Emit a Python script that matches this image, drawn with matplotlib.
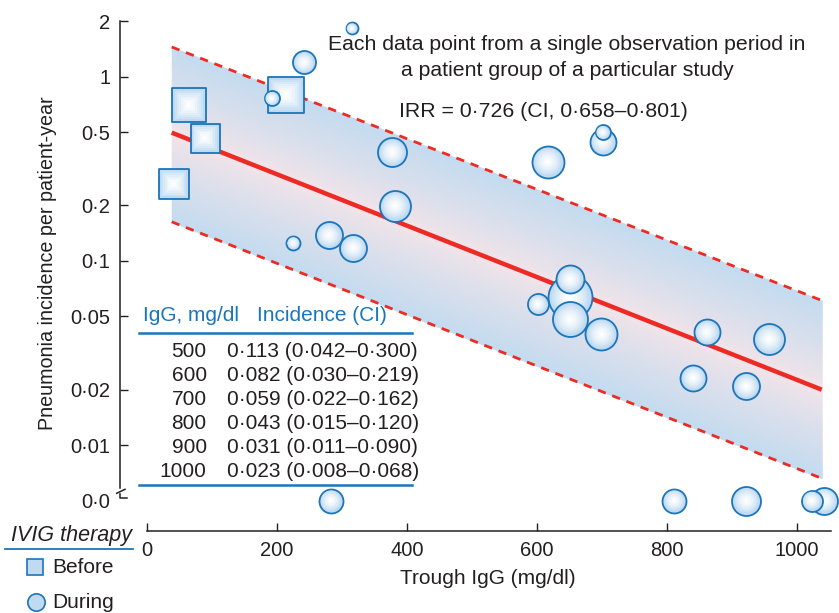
import numpy as np
import matplotlib
matplotlib.use("Agg")
import matplotlib.pyplot as plt
from matplotlib.lines import Line2D
from matplotlib.ticker import NullLocator
from matplotlib.colors import to_rgb

plt.rcParams['font.family'] = ['Liberation Sans', 'DejaVu Sans']

# --- data ---
before_x = [65, 89, 41, 214]
before_y = [0.70, 0.467, 0.262, 0.80]
before_d = [34, 29, 30, 36]          # marker size (px)

during_x = [315, 241.5, 191.8, 377.4, 381.5, 225, 279.5, 317.4, 616.4, 701, 701,
            650.8, 601, 650.8, 650.8, 699, 861, 957, 840.5, 922]
during_y = [1.83, 1.197, 0.763, 0.389, 0.1995, 0.125, 0.138, 0.118, 0.346, 0.444, 0.499,
            0.0634, 0.0583, 0.0795, 0.0482, 0.0401, 0.0411, 0.0377, 0.0232, 0.0209]
during_d = [12, 23, 15, 29, 31, 14, 27, 27, 32, 26, 15,
            44, 21, 28, 35, 32, 26, 31, 26, 27]

zero_x = [283, 811, 922, 1042, 1022.6]   # incidence 0.0
zero_d = [24, 24, 29, 27, 21]

fit_x = [38, 1038]
fit_y = [0.497, 0.020]
band_hi = [1.45, 0.061]
band_lo = [0.163, 0.0066]

igg_levels = [500, 600, 700, 800, 900, 1000]
incidence = ["0·113", "0·082", "0·059", "0·043", "0·031", "0·023"]
ci_lo = ["0·042", "0·030", "0·022", "0·015", "0·011", "0·008"]
ci_hi = ["0·300", "0·219", "0·162", "0·120", "0·090", "0·068"]

yticks = [2, 1, 0.5, 0.2, 0.1, 0.05, 0.02, 0.01]
ytick_labels = ["2", "1", "0·5", "0·2", "0·1", "0·05", "0·02", "0·01"]
xticks = [0, 200, 400, 600, 800, 1000]

ZERO = 0.005   # where the "0·0" row sits on the log axis

DARK = "#231f20"
BLUE = "#1b75bb"
FILL = "#bfdaf1"
RED = "#ee2a24"
PINK = "#f5e4e8"
BANDBLUE = "#c4dbef"
FS = 15

W, H = 839, 613
def fx(px): return px / W
def fy(py): return 1 - py / H
def ypix(py): return 10 ** (-(py - 76.7) / 184.2)

fig = plt.figure(figsize=(W / 100, H / 100), dpi=100)
ax = fig.add_axes([fx(120), fy(531), (831 - 120) / W, (531 - 10) / H])
ax.set_yscale("log")
ax.set_xlim(-41.5, 1052.3)
ax.set_ylim(ypix(531), ypix(10))


def blend(c1, c2, t):
    a, b = np.array(to_rgb(c1)), np.array(to_rgb(c2))
    return tuple(a + (b - a) * t)


# gradient band: pink along the fit, blue toward the dashed limits
fx_arr = np.array(fit_x, float)
lc = np.log10(fit_y)
N = 40
for edge in (band_hi, band_lo):
    le = np.log10(edge)
    for k in range(N):
        t0, t1 = k / N, (k + 1) / N
        ya = 10 ** (lc + t0 * (le - lc))
        yb = 10 ** (lc + t1 * (le - lc))
        col = blend(PINK, BANDBLUE, ((t0 + t1) / 2) ** 0.8)
        ax.fill_between(fx_arr, ya, yb, color=col, lw=0.6, ec=col, zorder=1)

ax.plot(fit_x, fit_y, color=RED, lw=3.2, zorder=2, solid_capstyle="butt")
ax.plot(fit_x, band_hi, color=RED, lw=2, ls=(0, (3, 2.5)), zorder=2)
ax.plot(fit_x, band_lo, color=RED, lw=2, ls=(0, (3, 2.5)), zorder=2)


def bubble(x, y, d, marker):
    pt = d * 0.72
    ax.scatter([x], [y], s=pt ** 2, marker=marker, facecolor=FILL,
               edgecolor=BLUE, linewidth=1.3, zorder=3, clip_on=False)
    n = 8
    for j in range(1, n):
        r = 1 - j / n
        col = blend("white", FILL, r ** 1.6)
        ax.scatter([x], [y], s=(pt * r * 0.95) ** 2, marker=marker, facecolor=col,
                   edgecolor="none", zorder=3, clip_on=False)


for x, y, d in zip(before_x, before_y, before_d):
    bubble(x, y, d, "s")
for x, y, d in zip(during_x, during_y, during_d):
    bubble(x, y, d, "o")
for x, d in zip(zero_x, zero_d):
    bubble(x, ZERO, d, "o")

# axes styling
for s in ("top", "right"):
    ax.spines[s].set_visible(False)
ax.spines["left"].set_bounds(ypix(488), 2)
ax.spines["bottom"].set_bounds(0, 1052.3)
for s in ("left", "bottom"):
    ax.spines[s].set_linewidth(1.1)
    ax.spines[s].set_color(DARK)

ax.set_yticks(yticks + [ZERO])
ax.set_yticklabels(ytick_labels + ["0·0"])
ax.yaxis.set_minor_locator(NullLocator())
ax.yaxis.get_major_ticks()[-1].tick1line.set_visible(False)
ax.set_xticks(xticks)
ax.tick_params(direction="in", length=6, width=1, color=DARK, labelcolor=DARK,
               labelsize=14.5, pad=7)

fig.text(fx(488), fy(584), "Trough IgG (mg/dl)", ha="center", va="baseline",
         fontsize=FS, color=DARK)
fig.text(fx(48), fy(263), "Pneumonia incidence per patient-year", rotation=90,
         ha="center", va="center", fontsize=14.2, color=DARK)

# axis break mark
for xs, ys in (([116.7, 125], [493.3, 489.3]), ([120, 120, 126.7], [494, 498.3, 498.3])):
    fig.add_artist(Line2D([fx(v) for v in xs], [fy(v) for v in ys], color=DARK, lw=1.1))

# annotations
fig.text(fx(567), fy(50), "Each data point from a single observation period in",
         ha="center", va="baseline", fontsize=15.3, color=DARK)
fig.text(fx(567), fy(76), "a patient group of a particular study",
         ha="center", va="baseline", fontsize=15.3, color=DARK)
fig.text(fx(399), fy(117), "IRR = 0·726 (CI, 0·658–0·801)",
         ha="left", va="baseline", fontsize=15.3, color=DARK)

# table
fig.text(fx(143), fy(321), "IgG, mg/dl", ha="left", va="baseline", fontsize=FS, color=BLUE)
fig.text(fx(256.7), fy(321), "Incidence (CI)", ha="left", va="baseline", fontsize=FS, color=BLUE)
for yy in (333.3, 485):
    fig.add_artist(Line2D([fx(139), fx(412)], [fy(yy), fy(yy)], color=BLUE, lw=1.8))
for i, lvl in enumerate(igg_levels):
    base = 356.7 + i * 24.1
    fig.text(fx(206.7), fy(base), str(lvl), ha="right", va="baseline", fontsize=FS, color=DARK)
    fig.text(fx(226.7), fy(base), f"{incidence[i]} ({ci_lo[i]}–{ci_hi[i]})",
             ha="left", va="baseline", fontsize=FS, color=DARK)

# legend
fig.text(fx(132), fy(541), "IVIG therapy", ha="right", va="baseline", fontsize=15.5,
         style="italic", color=DARK)
fig.add_artist(Line2D([fx(5), fx(133)], [fy(549), fy(549)], color=BLUE, lw=1.3))
fig.add_artist(Line2D([fx(35)], [fy(567)], marker="s", markersize=12, color=FILL,
                      markeredgecolor=BLUE, markeredgewidth=1.2))
fig.add_artist(Line2D([fx(36)], [fy(602)], marker="o", markersize=12.5, color=FILL,
                      markeredgecolor=BLUE, markeredgewidth=1.2))
fig.text(fx(52), fy(573), "Before", ha="left", va="baseline", fontsize=FS, color=DARK)
fig.text(fx(52), fy(608), "During", ha="left", va="baseline", fontsize=FS, color=DARK)

fig.savefig("out.png", dpi=100)
